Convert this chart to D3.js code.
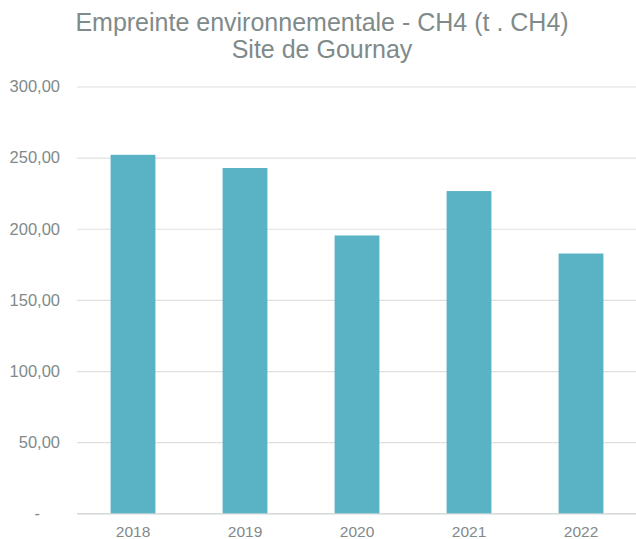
<!DOCTYPE html>
<html><head><meta charset="utf-8">
<script src="https://cdn.jsdelivr.net/npm/d3@7"></script>
<style>body{margin:0;background:#fff;}svg{display:block;font-family:"Liberation Sans",Arial,sans-serif;}</style>
</head><body>
<script>
const titleLines = ["Empreinte environnementale - CH4 (t . CH4)", "Site de Gournay"];
const categories = ["2018", "2019", "2020", "2021", "2022"];
const values = [252.0, 242.7, 195.3, 226.5, 182.6];
const yTicks = [0, 50, 100, 150, 200, 250, 300];

const W = 636, H = 539;
const margin = {left: 77, right: -1, top: 86.5, bottom: 539 - 513.3};
const svg = d3.select("body").append("svg").attr("width", W).attr("height", H);

const x = d3.scaleBand().domain(categories)
  .range([margin.left, W - margin.right]).paddingInner(0.6).paddingOuter(0.3);
const y = d3.scaleLinear().domain([0, 300]).range([H - margin.bottom, margin.top]);

const textColor = "#7f8a8a";

// gridlines
const yAxis = d3.axisLeft(y).tickValues(yTicks)
  .tickSize(-(W - margin.right - margin.left))
  .tickPadding(17)
  .tickFormat(d => d === 0 ? "-" : d3.format(".2f")(d).replace(".", ","));
const gy = svg.append("g").attr("transform", `translate(${margin.left},0)`).call(yAxis);
gy.select(".domain").remove();
gy.selectAll(".tick line").attr("stroke", d => d === 0 ? "#d4d8d8" : "#e0e0e0").attr("stroke-width", d => d === 0 ? 1.5 : 1.2);
gy.selectAll(".tick text").attr("fill", textColor).style("font-size", "16.5px")
  .attr("dx", d => d === 0 ? -20 : 0);

// bars
svg.append("g").selectAll("rect").data(values).join("rect")
  .attr("x", (d, i) => x(categories[i]))
  .attr("width", x.bandwidth())
  .attr("y", d => y(d))
  .attr("height", d => y(0) - y(d))
  .attr("fill", "#5ab3c5");

// x axis
const xAxis = d3.axisBottom(x).tickSize(0).tickPadding(13);
const gx = svg.append("g").attr("transform", `translate(0,${y(0)})`).call(xAxis);
gx.select(".domain").remove();
gx.selectAll(".tick text").attr("fill", textColor).style("font-size", "15.5px");

// title
svg.append("g").selectAll("text").data(titleLines).join("text")
  .attr("x", 322).attr("y", (d, i) => 30.5 + i * 27.5)
  .attr("text-anchor", "middle").attr("fill", textColor)
  .style("font-size", "25px").text(d => d);
</script>
</body></html>
